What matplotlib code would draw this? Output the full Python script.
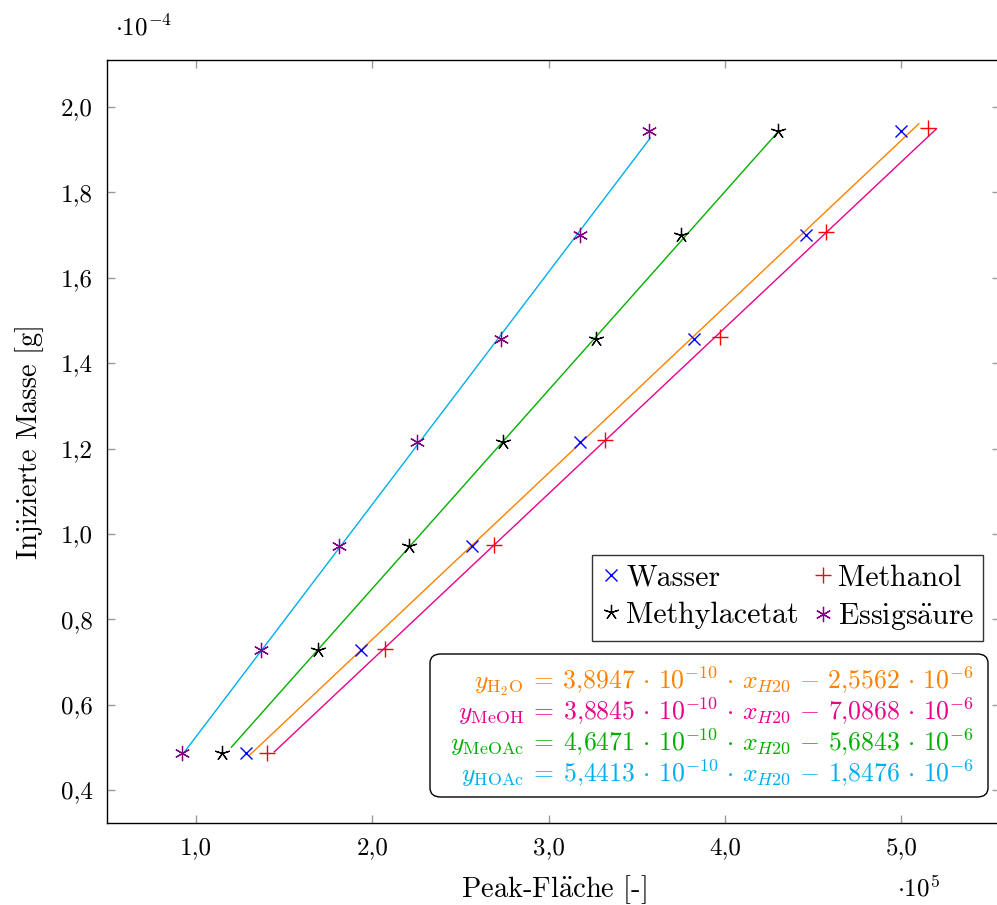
import matplotlib
matplotlib.use("Agg")
import matplotlib.pyplot as plt
import numpy as np
from matplotlib.ticker import FuncFormatter, MultipleLocator
from matplotlib.patches import FancyBboxPatch

plt.rcParams['font.family'] = ['cmr10', 'DejaVu Serif']
plt.rcParams['mathtext.fontset'] = 'cm'
plt.rcParams['axes.formatter.use_mathtext'] = True
plt.rcParams['axes.unicode_minus'] = False

# Peak areas (x 1e5) and injected masses (x 1e-4 g)
wasser_x = [1.284, 1.936, 2.566, 3.179, 3.826, 4.461, 5.000]
wasser_y = [0.486, 0.729, 0.972, 1.215, 1.457, 1.700, 1.944]
methanol_x = [1.403, 2.072, 2.691, 3.321, 3.973, 4.574, 5.153]
methanol_y = [0.487, 0.731, 0.975, 1.220, 1.462, 1.706, 1.951]
methylacetat_x = [1.148, 1.692, 2.209, 2.742, 3.270, 3.752, 4.302]
methylacetat_y = [0.486, 0.729, 0.972, 1.215, 1.457, 1.700, 1.944]
essig_x = [0.921, 1.369, 1.811, 2.254, 2.730, 3.179, 3.570]
essig_y = [0.486, 0.729, 0.972, 1.215, 1.457, 1.700, 1.944]

# Linear fits y = m*x + b in raw units (x: peak area, y: g)
fit_slopes = [3.8947e-10, 3.8845e-10, 4.6471e-10, 5.4413e-10]
fit_intercepts = [-2.5562e-6, -7.0868e-6, -5.6843e-6, -1.8476e-6]
fit_ranges = [(1.30, 5.10), (1.443, 5.20), (1.20, 4.302), (0.926, 3.576)]
fit_colors = ['#FF8000', '#EC008C', '#00B000', '#00AEEF']
fit_labels = [
    r'$y_{\mathrm{H_2O}}\:=\:3{,}8947\,\cdot\,10^{-10}\,\cdot\,x_{H20}\,-\,2{,}5562\,\cdot\,10^{-6}$',
    r'$y_{\mathrm{MeOH}}\:=\:3{,}8845\,\cdot\,10^{-10}\,\cdot\,x_{H20}\,-\,7{,}0868\,\cdot\,10^{-6}$',
    r'$y_{\mathrm{MeOAc}}\:=\:4{,}6471\,\cdot\,10^{-10}\,\cdot\,x_{H20}\,-\,5{,}6843\,\cdot\,10^{-6}$',
    r'$y_{\mathrm{HOAc}}\:=\:5{,}4413\,\cdot\,10^{-10}\,\cdot\,x_{H20}\,-\,1{,}8476\,\cdot\,10^{-6}$',
]

W, H = 997, 905
fig = plt.figure(figsize=(W / 100, H / 100), dpi=100)
ax = fig.add_axes([107 / W, (H - 823) / H, 893 / W, 763 / H])

# fit lines
for m, b, (x0, x1), c in zip(fit_slopes, fit_intercepts, fit_ranges, fit_colors):
    xs = np.array([x0, x1])
    ys = (m * xs * 1e5 + b) / 1e-4
    ax.plot(xs, ys, color=c, lw=1.0, zorder=2)

ms = 9
h_w, = ax.plot(wasser_x, wasser_y, ls='none', marker='x', color='blue', ms=ms, mew=1.0,
               zorder=3)
h_m, = ax.plot(methanol_x, methanol_y, ls='none', marker='+', color='red', ms=ms + 3,
               mew=1.0, zorder=3)
h_a, = ax.plot(methylacetat_x, methylacetat_y, ls='none', marker=(5, 2, 0), color='black',
               ms=ms + 2, mew=0.9, zorder=3)
h_e, = ax.plot(essig_x, essig_y, ls='none', marker=(6, 2, 0), color='#800080', ms=ms + 2,
               mew=0.9, zorder=3)

ax.set_xlim(0.494, 5.56)
ax.set_ylim(0.323, 2.11)
ax.xaxis.set_major_locator(MultipleLocator(1.0))
ax.yaxis.set_major_locator(MultipleLocator(0.2))
fmt = FuncFormatter(lambda v, p: f'{v:.1f}'.replace('.', ','))
ax.xaxis.set_major_formatter(fmt)
ax.yaxis.set_major_formatter(fmt)
ax.tick_params(direction='in', length=6, width=1.0, color='#9a9a9a',
               top=True, right=True, labelsize=18, pad=10)
for s in ax.spines.values():
    s.set_linewidth(1.0)
    s.set_color('black')

ax.set_xlabel(r'Peak-Fl$\ddot{\mathrm{a}}$che [-]', fontsize=20.5, labelpad=10)
ax.set_ylabel('Injizierte Masse [g]', fontsize=20.5, labelpad=12)

fig.text(115 / W, 1 - 28 / H, r'$\cdot 10^{-4}$', fontsize=18, va='center', ha='left')
fig.text(897 / W, 1 - 888 / H, r'$\cdot 10^{5}$', fontsize=18, va='center', ha='left')

# two-column legend filled row by row
leg = ax.legend([h_w, h_a, h_m, h_e],
                ['Wasser', 'Methylacetat', 'Methanol', r'Essigs$\ddot{\mathrm{a}}$ure'],
                ncol=2, loc='upper right', bbox_to_anchor=(0.981, 0.351),
                borderaxespad=0, fontsize=21.5, frameon=True, fancybox=False,
                handlelength=0.7, handletextpad=0.15, columnspacing=0.45,
                borderpad=0.3, labelspacing=0.32)
leg.get_frame().set_edgecolor('black')
leg.get_frame().set_linewidth(1.0)

# Equation box
def fx(px):
    return (px - 107) / 893

def fy(py):
    return (823 - py) / 763

box = FancyBboxPatch((fx(430), fy(797)), fx(988) - fx(430), fy(654) - fy(797),
                     boxstyle='round,pad=0,rounding_size=0.012', transform=ax.transAxes,
                     facecolor='white', edgecolor='black', lw=1.0, zorder=5)
ax.add_patch(box)
baselines = [689, 720, 751, 782]
for lab, c, bl in zip(fit_labels, fit_colors, baselines):
    ax.text(fx(974), fy(bl), lab, color=c, fontsize=18.5, ha='right', va='baseline',
            transform=ax.transAxes, zorder=6)

fig.savefig('out.png', dpi=100)
